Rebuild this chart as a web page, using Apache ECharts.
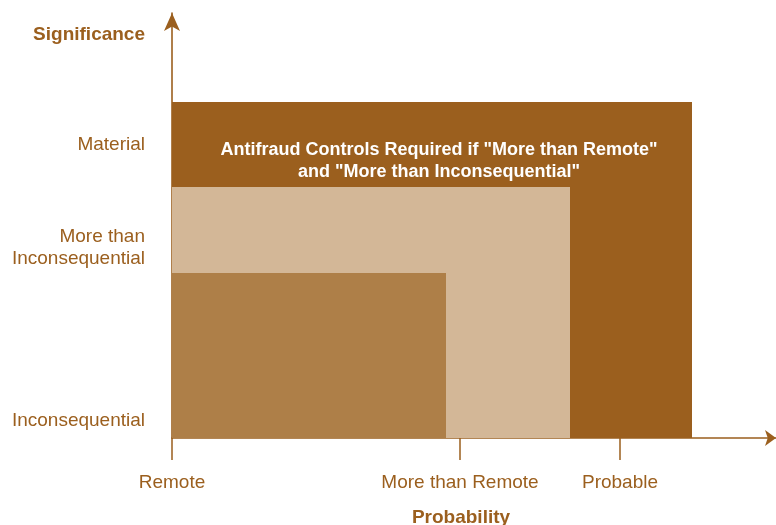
<!DOCTYPE html>
<html>
<head>
<meta charset="utf-8">
<script src="https://cdn.jsdelivr.net/npm/echarts@6/dist/echarts.min.js"></script>
<style>html,body{margin:0;padding:0;background:#fff}#c{width:776px;height:525px}</style>
</head>
<body>
<div id="c"></div>
<script>
// Regions: [probability extent, significance extent] measured from origin
const regionNames = ['Required', 'Possible', 'Not required'];
const regionProbability = [52.0, 39.8, 27.4];
const regionSignificance = [33.6, 25.1, 16.5];
const regionColors = ['#9b5f1e', '#d3b797', '#ae7f48'];

const probabilityTicks = [0, 28.8, 44.8];
const probabilityLabels = ['Remote', 'More than Remote', 'Probable'];
const significanceTicks = [29.3, 19.0, 1.7];
const significanceLabels = ['Material', 'More than\nInconsequential', 'Inconsequential'];

const noteText = 'Antifraud Controls Required if "More than Remote"\nand "More than Inconsequential"';

const TXT = '#9b5f1e';
const FONT = '"Liberation Sans", Arial, Helvetica, sans-serif';

const chart = echarts.init(document.getElementById('c'), null, {renderer: 'canvas'});

const rectData = regionNames.map((n, i) => ({name: n, value: [regionProbability[i], regionSignificance[i]], itemStyle: {color: regionColors[i]}}));

chart.setOption({
  animation: false,
  backgroundColor: '#fff',
  grid: {left: 172, top: 13, width: 604, height: 425},
  title: [
    {text: 'Significance', left: 145, top: 25, textAlign: 'right', padding: 0,
     textStyle: {color: TXT, fontFamily: FONT, fontSize: 19, fontWeight: 'bold'}},
    {text: 'Probability', left: 461, top: 508, textAlign: 'center', padding: 0,
     textStyle: {color: TXT, fontFamily: FONT, fontSize: 19, fontWeight: 'bold'}}
  ],
  xAxis: {
    type: 'value', min: 0, max: 60.4,
    splitLine: {show: false},
    axisLine: {show: true, lineStyle: {color: TXT, width: 1.6}, symbol: ['none', 'arrow'], symbolSize: [12, 11]},
    axisTick: {show: true, customValues: probabilityTicks, length: 22, inside: false, lineStyle: {color: TXT, width: 1.5}},
    axisLabel: {
      show: true, customValues: probabilityTicks, margin: 35,
      color: TXT, fontFamily: FONT, fontSize: 19,
      formatter: v => { const i = probabilityTicks.indexOf(v); return i >= 0 ? probabilityLabels[i] : ''; }
    }
  },
  yAxis: {
    type: 'value', min: 0, max: 42.5,
    splitLine: {show: false},
    axisLine: {show: true, lineStyle: {color: TXT, width: 1.6}, symbol: ['none', 'arrow'], symbolSize: [12, 18]},
    axisTick: {show: false},
    axisLabel: {
      show: true, customValues: significanceTicks, margin: 27,
      color: TXT, fontFamily: FONT, fontSize: 19, lineHeight: 22, align: 'right',
      formatter: v => { const i = significanceTicks.indexOf(v); return i >= 0 ? significanceLabels[i] : ''; }
    }
  },
  series: [{
    type: 'custom',
    data: rectData,
    renderItem: (params, api) => {
      const p0 = api.coord([0, 0]);
      const p1 = api.coord([api.value(0), api.value(1)]);
      return {
        type: 'rect',
        shape: {x: p0[0], y: p1[1], width: p1[0] - p0[0], height: p0[1] - p1[1]},
        style: {fill: api.visual('color')}
      };
    },
    encode: {x: 0, y: 1}
  }],
  graphic: [{
    type: 'text', x: 439, y: 161, z: 100,
    style: {text: noteText, fill: '#fff', font: 'bold 18px ' + FONT, align: 'center', verticalAlign: 'middle', lineHeight: 22}
  }]
});
</script>
</body>
</html>
